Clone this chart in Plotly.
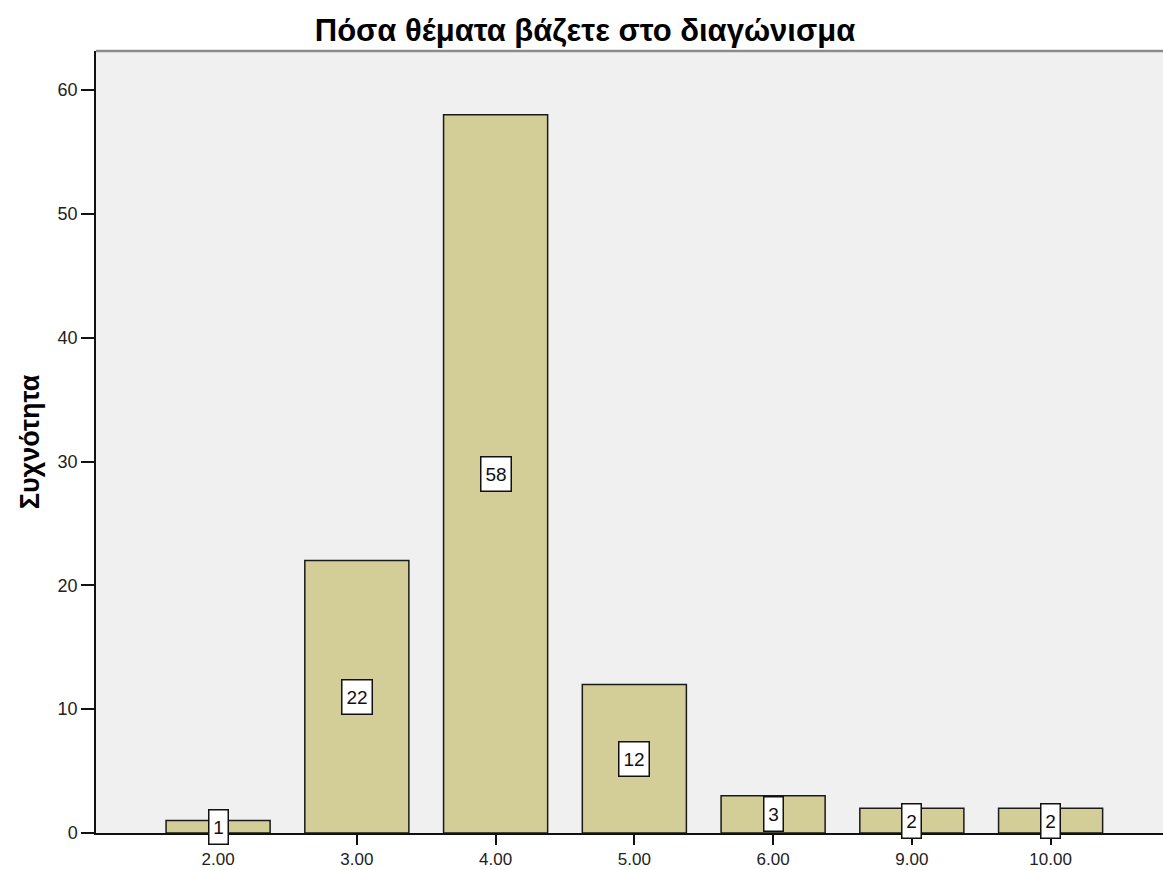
import plotly.graph_objects as go

# Frequency table: number of topics set in the exam
categories = ["2.00", "3.00", "4.00", "5.00", "6.00", "9.00", "10.00"]
counts = [1, 22, 58, 12, 3, 2, 2]
y_ticks = [0, 10, 20, 30, 40, 50, 60]

title_text = "Πόσα θέματα βάζετε στο διαγώνισμα"
y_title = "Συχνότητα"

FONT = "Liberation Sans, Arial, sans-serif"
BAR_FILL = "#D3CE98"
PLOT_BG = "#F0F0F0"

fig = go.Figure()
fig.add_trace(go.Bar(
    x=list(range(len(categories))),
    y=counts,
    width=0.75,
    marker=dict(color=BAR_FILL, line=dict(color="#1a1a1a", width=1.5)),
    hoverinfo="skip",
))

# Value labels in boxed tags at half the bar height
for i, v in enumerate(counts):
    txt = str(v)
    fig.add_annotation(
        x=i, y=v / 2, xref="x", yref="y",
        text=txt, showarrow=False,
        font=dict(family=FONT, size=19, color="#111"),
        bgcolor="white", bordercolor="#111", borderwidth=1.5,
        borderpad=3, width=11 * len(txt) + 1, height=27,
    )

# Thin top border of the plot frame
fig.add_shape(type="line", xref="paper", yref="paper",
              x0=0, x1=1, y0=1, y1=1,
              line=dict(color="#8a8a8a", width=2.5))

fig.update_layout(
    width=1163, height=870,
    margin=dict(l=96, r=0, t=51, b=37),
    paper_bgcolor="white",
    plot_bgcolor=PLOT_BG,
    showlegend=False,
    title=dict(text=f"<b>{title_text}</b>", x=0.503, xref="container",
               y=1 - 30 / 870, yref="container", yanchor="middle",
               xanchor="center",
               font=dict(family=FONT, size=31, color="black")),
    font=dict(family=FONT, color="#222"),
)

fig.update_xaxes(
    tickmode="array", tickvals=list(range(len(categories))), ticktext=categories,
    range=[-0.88, 6.81], automargin=False,
    showline=True, linecolor="#111", linewidth=1.5,
    ticks="outside", ticklen=10, tickwidth=1.5, tickcolor="#111",
    tickfont=dict(family=FONT, size=17, color="#222"),
    showgrid=False, zeroline=False,
)
fig.update_yaxes(
    tickmode="array", tickvals=y_ticks,
    range=[0, 63.15], automargin=False,
    showline=True, linecolor="#111", linewidth=1.5,
    ticks="outside", ticklen=13, tickwidth=1.5, tickcolor="#111",
    tickfont=dict(family=FONT, size=18, color="#222"),
    showgrid=False, zeroline=False,
    title=dict(text=f"<b>{y_title}</b>", standoff=10,
               font=dict(family=FONT, size=27, color="black")),
)

fig.write_html("out.html")
